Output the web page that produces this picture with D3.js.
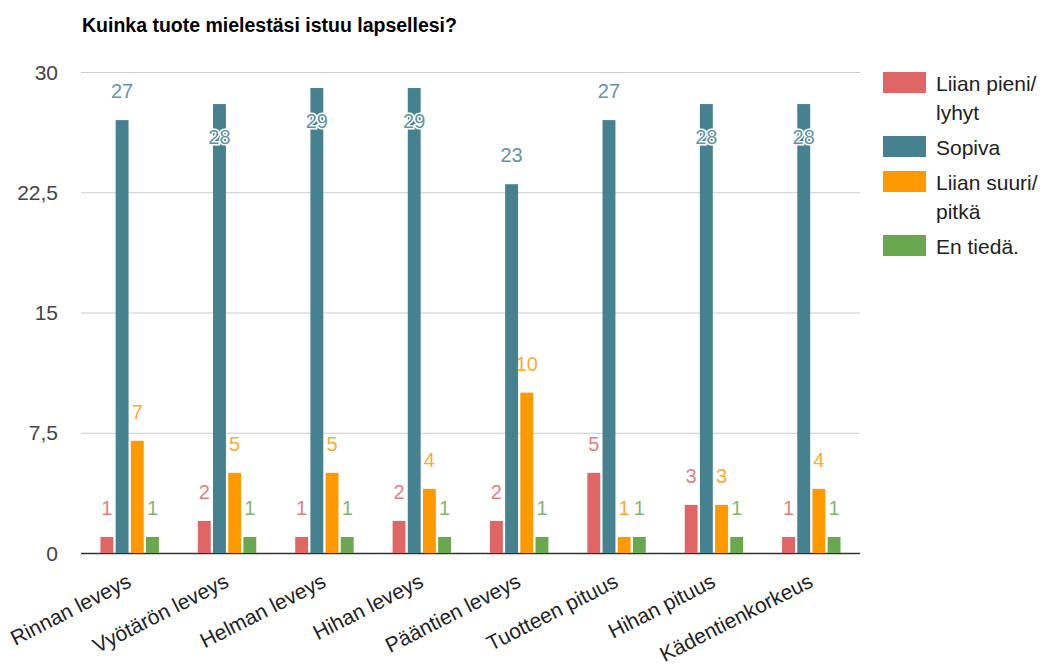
<!DOCTYPE html>
<html>
<head>
<meta charset="utf-8">
<script src="https://cdn.jsdelivr.net/npm/d3@7"></script>
<style>
  body { margin: 0; background: #fff; }
  text { font-family: "Liberation Sans", Arial, sans-serif; }
</style>
</head>
<body>
<div id="chart"></div>
<script>
// data
var categories = ["Rinnan leveys", "Vyötärön leveys", "Helman leveys", "Hihan leveys",
                  "Pääntien leveys", "Tuotteen pituus", "Hihan pituus", "Kädentienkorkeus"];
var liianPieni = [1, 2, 1, 2, 2, 5, 3, 1];
var sopiva = [27, 28, 29, 29, 23, 27, 28, 28];
var liianSuuri = [7, 5, 5, 4, 10, 1, 3, 4];
var enTieda = [1, 1, 1, 1, 1, 1, 1, 1];
var yTicks = [0, 7.5, 15, 22.5, 30];
var colors = ["#e06666", "#45818e", "#ff9900", "#6aa84f"];

var series = [liianPieni, sopiva, liianSuuri, enTieda];

var W = 1043, H = 670;
var plotLeft = 81, plotRight = 860, plotTop = 72, plotBottom = 553;

var svg = d3.select("#chart").append("svg")
    .attr("width", W).attr("height", H);

// title
svg.append("text")
    .attr("x", 82).attr("y", 32)
    .style("font-size", "19.5px").style("font-weight", "bold")
    .attr("fill", "#000")
    .text("Kuinka tuote mielestäsi istuu lapsellesi?");

var y = d3.scaleLinear().domain([0, 30]).range([plotBottom, plotTop]);
var x0 = d3.scaleBand().domain(categories).range([plotLeft, plotRight])
    .paddingInner(0.40).paddingOuter(0.20);
var x1 = d3.scaleBand().domain(d3.range(4)).range([0, x0.bandwidth()]).paddingInner(0.15);

var fmt = function(d) { return String(d).replace(".", ","); };

// gridlines
var grid = svg.append("g")
    .attr("transform", "translate(" + plotLeft + ",0)")
    .call(d3.axisLeft(y).tickValues(yTicks).tickSize(-(plotRight - plotLeft)).tickFormat(fmt));
grid.select(".domain").remove();
grid.selectAll(".tick line")
    .attr("stroke", function(d) { return d === 0 ? "#333" : "#ccc"; })
    .attr("stroke-width", function(d) { return d === 0 ? 1.5 : 1; });
grid.selectAll(".tick text")
    .attr("x", -23)
    .attr("dy", "0.34em")
    .style("font-size", "21px")
    .attr("fill", "#444");

// bars
var groups = svg.append("g").selectAll("g")
    .data(categories)
    .enter().append("g")
    .attr("transform", function(d) { return "translate(" + x0(d) + ",0)"; });

groups.selectAll("rect")
    .data(function(d, i) { return series.map(function(s, k) { return {k: k, v: s[i]}; }); })
    .enter().append("rect")
    .attr("x", function(d) { return x1(d.k); })
    .attr("width", x1.bandwidth())
    .attr("y", function(d) { return y(d.v); })
    .attr("height", function(d) { return plotBottom - y(d.v); })
    .attr("fill", function(d) { return colors[d.k]; });

// value labels
function inside(d) { return y(d.v) - 30 < plotTop + 10; }
groups.selectAll("text.val")
    .data(function(d, i) { return series.map(function(s, k) { return {k: k, v: s[i]}; }); })
    .enter().append("text")
    .attr("class", "val")
    .attr("x", function(d) { return x1(d.k) + x1.bandwidth() / 2; })
    .attr("y", function(d) { return inside(d) ? y(d.v) + 40 : y(d.v) - 22; })
    .attr("text-anchor", "middle")
    .style("font-size", "20px")
    .attr("fill", function(d) { return colors[d.k]; })
    .attr("fill-opacity", 0.85)
    .attr("stroke", function(d) { return inside(d) ? "#fff" : "none"; })
    .attr("stroke-width", 3)
    .attr("paint-order", "stroke")
    .text(function(d) { return d.v; });

// category labels
svg.append("g").selectAll("text")
    .data(categories)
    .enter().append("text")
    .attr("transform", function(d) {
        return "translate(" + (x0(d) + x0.bandwidth() / 2 + 3) + "," + 586 + ") rotate(-27)";
    })
    .attr("text-anchor", "end")
    .style("font-size", "21px")
    .attr("fill", "#222")
    .text(function(d) { return d; });

// legend
var legendRows = [
    {k: 0, y: 72, lines: ["Liian pieni/", "lyhyt"]},
    {k: 1, y: 136, lines: ["Sopiva"]},
    {k: 2, y: 171, lines: ["Liian suuri/", "pitkä"]},
    {k: 3, y: 235, lines: ["En tiedä."]}
];
var lg = svg.append("g").selectAll("g")
    .data(legendRows)
    .enter().append("g")
    .attr("transform", function(d) { return "translate(883," + d.y + ")"; });
lg.append("rect")
    .attr("width", 43).attr("height", 21)
    .attr("fill", function(d) { return colors[d.k]; });
lg.each(function(d) {
    var t = d3.select(this).append("text")
        .attr("x", 53).attr("y", 19)
        .style("font-size", "21px")
        .attr("fill", "#222");
    d.lines.forEach(function(l, i) {
        t.append("tspan").attr("x", 53).attr("dy", i === 0 ? 0 : 29).text(l);
    });
});
</script>
</body>
</html>
